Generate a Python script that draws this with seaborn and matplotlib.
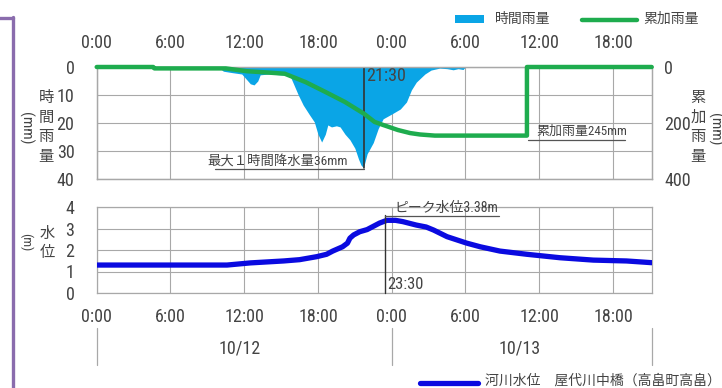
import matplotlib
matplotlib.use("Agg")
import matplotlib.pyplot as plt
from matplotlib.lines import Line2D
from matplotlib.patches import Rectangle
from matplotlib import font_manager
import seaborn as sns
import pandas as pd

# ---------------- data ----------------
tick_hours = [0, 6, 12, 18, 24, 30, 36, 42]
tick_labels = ["0:00", "6:00", "12:00", "18:00", "0:00", "6:00", "12:00", "18:00"]
dates = ["10/12", "10/13"]

# hourly rainfall (mm), hours from 10/12 0:00
rain_t = [9.9, 10.3, 11.0, 11.8, 12.1, 12.5, 12.8, 13.1, 13.3, 14.0, 15.0, 15.7,
          15.95, 16.4, 16.8, 17.3, 17.7, 18.0, 18.3, 18.6, 18.8, 19.1, 19.5, 19.8,
          20.2, 20.6, 21.0, 21.3, 21.5, 21.7, 22.0, 22.5, 22.9, 23.3, 24.0, 24.7,
          25.2, 25.6, 26.0, 26.7, 27.2, 27.9, 28.5, 29.0, 29.4, 29.8, 30.0]
rain_mm = [0, 1.5, 2.0, 2.5, 4.0, 6.0, 6.4, 5.0, 2.8, 2.5, 2.8, 2.9,
           5.4, 10.0, 13.6, 17.0, 19.6, 24.0, 26.8, 24.0, 20.7, 21.4, 21.0, 21.4,
           24.0, 26.0, 29.0, 32.9, 35.0, 36.0, 31.0, 27.0, 22.0, 18.5, 16.8, 15.0,
           12.5, 8.2, 5.4, 2.5, 1.1, 0.4, 0.6, 1.0, 0.6, 0.9, 0]

# cumulative rainfall (mm)
cum_t = [0, 4.6, 4.7, 10.5, 12.2, 14.0, 15.3, 17.0, 18.6, 20.2, 21.75, 22.6, 23.3,
         24.5, 25.5, 26.3, 27.5, 35.0, 35.0, 45.15]
cum_mm = [0, 0, 5, 5, 15, 20, 24, 54, 89, 125, 167, 196, 207,
          225, 236, 241, 245, 245, 0, 0]

# river water level (m)
lvl_t = [0, 10.6, 12.5, 15.2, 16.5, 17.9, 18.7, 19.2, 20.0, 20.4, 20.6, 20.9, 21.4,
         22.0, 23.0, 23.6, 24.3, 24.9, 26.0, 26.8, 27.4, 28.5, 30.1, 31.2, 32.8,
         35.0, 37.7, 40.4, 43.1, 45.15]
lvl_m = [1.30, 1.30, 1.40, 1.49, 1.55, 1.69, 1.80, 1.95, 2.15, 2.32, 2.55, 2.70, 2.85,
         2.95, 3.25, 3.38, 3.38, 3.32, 3.16, 3.07, 2.93, 2.62, 2.32, 2.15, 1.95,
         1.80, 1.64, 1.53, 1.49, 1.41]

peak_rain_t = 21.75
peak_lvl_t = 23.45

# ---------------- style ----------------
sns.set_theme(style="white")
installed = {f.name for f in font_manager.fontManager.ttflist}
narrow = [n for n in ["Liberation Sans Narrow", "DejaVu Sans Condensed", "Roboto Condensed",
                      "Open Sans Condensed"] if n in installed]
plt.rcParams["font.family"] = narrow + ["Noto Sans CJK JP", "DejaVu Sans"]
NUM = 13 if narrow else 11.5

W, H = 722, 388
fig = plt.figure(figsize=(W / 100, H / 100), dpi=100)

def fx(px):
    return px / W

def fy(py):
    return 1 - py / H

XMAX = 45.15
L, R = 96.7, 651.7
ax1 = fig.add_axes([fx(L), fy(179), fx(R) - fx(L), fy(67) - fy(179)])
ax2 = fig.add_axes([fx(L), fy(293), fx(R) - fx(L), fy(207) - fy(293)])

TXT = "#444444"
GRID = "#a8a8a8"
BLUE_R = "#0aa5e6"
GREEN = "#1eac4e"
BLUE_L = "#0a0ae0"

rain_df = pd.DataFrame({"t": rain_t, "mm": rain_mm})
cum_df = pd.DataFrame({"t": cum_t, "mm": cum_mm})
lvl_df = pd.DataFrame({"t": lvl_t, "m": lvl_m})

# ---- top axes: rainfall ----
ax1.fill_between(rain_df["t"], rain_df["mm"], 0, color=BLUE_R, linewidth=0, zorder=2)
ax1.set_xlim(0, XMAX)
ax1.set_ylim(40, 0)
ax1.set_xticks(tick_hours)
ax1.set_xticklabels(tick_labels)
ax1.xaxis.tick_top()
ax1.set_yticks([0, 10, 20, 30, 40])
ax1.grid(True, color=GRID, linewidth=0.8)
ax1.tick_params(axis="x", length=0, pad=11, labelsize=NUM, colors=TXT)
ax1.tick_params(axis="y", length=0, pad=16, labelsize=NUM, colors=TXT)
ax1.set_xlabel("")
ax1.set_ylabel("")

ax1r = ax1.twinx()
sns.lineplot(data=cum_df, x="t", y="mm", ax=ax1r, color=GREEN, linewidth=3.2,
             estimator=None, sort=False, clip_on=False, zorder=4)
ax1r.set_ylim(400, 0)
ax1r.set_xlim(0, XMAX)
ax1r.set_yticks([0, 200, 400])
ax1r.tick_params(axis="y", length=0, pad=9, labelsize=NUM, colors=TXT)
ax1r.set_ylabel("")
ax1r.grid(False)

for a in (ax1, ax1r, ax2):
    for s in a.spines.values():
        s.set_color(GRID)
        s.set_linewidth(0.9)

# annotations top
ax1.plot([peak_rain_t, peak_rain_t], [0, 36], color="#333333", lw=1.2, zorder=5)
ax1.plot([9.6, peak_rain_t], [36.5, 36.5], color="#555555", lw=0.9, zorder=5, clip_on=False)
ax1.text(peak_rain_t - 1.3, 35.8, "最大１時間降水量36mm", ha="right", va="bottom",
         fontsize=9.6, color=TXT, zorder=6)
ax1.text(peak_rain_t + 0.15, 3.2, "21:30", ha="left", va="center", fontsize=NUM,
         color=TXT, zorder=6)
ax1r.plot([35.1, 43.0], [260, 260], color="#555555", lw=0.9)
ax1r.text(35.8, 254, "累加雨量245mm", ha="left", va="bottom", fontsize=9.4, color=TXT)

# ---- bottom axes: water level ----
sns.lineplot(data=lvl_df, x="t", y="m", ax=ax2, color=BLUE_L, linewidth=3.8,
             estimator=None, sort=False, zorder=4)
ax2.set_xlim(0, XMAX)
ax2.set_ylim(0, 4)
ax2.set_xticks(tick_hours)
ax2.set_xticklabels(tick_labels)
ax2.set_yticks([0, 1, 2, 3, 4])
ax2.grid(True, color=GRID, linewidth=0.8)
ax2.tick_params(axis="x", length=0, pad=11, labelsize=NUM, colors=TXT)
ax2.tick_params(axis="y", length=0, pad=16, labelsize=NUM, colors=TXT)
ax2.set_xlabel("")
ax2.set_ylabel("")

ax2.plot([peak_lvl_t, peak_lvl_t], [0, 3.62], color="#333333", lw=1.0, zorder=5, clip_on=False)
ax2.plot([peak_lvl_t, 32.7], [3.58, 3.58], color="#555555", lw=0.9, zorder=5, clip_on=False)
ax2.text(peak_lvl_t + 0.8, 3.63, "ピーク水位3.38m", ha="left", va="bottom", fontsize=10,
         color=TXT, zorder=6)
ax2.text(peak_lvl_t + 0.15, 0.4, "23:30", ha="left", va="center", fontsize=NUM - 1,
         color=TXT, zorder=6)

# date row
xt = ax2.get_xaxis_transform()
for xv in (0, 24, XMAX):
    ax2.plot([xv, xv], [-0.41, -0.84], transform=xt, color=GRID, lw=0.9, clip_on=False)
ax2.text(11.6, -0.65, dates[0], transform=xt, ha="center", va="center", fontsize=NUM, color=TXT)
ax2.text(34.4, -0.65, dates[1], transform=xt, ha="center", va="center", fontsize=NUM, color=TXT)

# axis titles
def vtext(px, py, s, size=11):
    fig.text(fx(px), fy(py), "\n".join(s), ha="center", va="center", fontsize=size,
             color=TXT, linespacing=1.2, family=["Noto Sans CJK JP", "DejaVu Sans"])

vtext(46, 127, "時間雨量")
fig.text(fx(26), fy(128), "(mm)", rotation=-90, ha="center", va="center", fontsize=11, color=TXT)
vtext(698, 127, "累加雨量")
fig.text(fx(715), fy(129), "(mm)", rotation=-90, ha="center", va="center", fontsize=11, color=TXT)
vtext(47, 243, "水位")
fig.text(fx(26), fy(242), "(m)", rotation=-90, ha="center", va="center", fontsize=9.5, color=TXT)

# legends
fig.add_artist(Rectangle((fx(455), fy(23)), fx(484) - fx(455), fy(15) - fy(23),
                         transform=fig.transFigure, color=BLUE_R, lw=0))
fig.text(fx(495), fy(19), "時間雨量", ha="left", va="center", fontsize=10, color=TXT)
fig.add_artist(Line2D([fx(582), fx(637)], [fy(19.5), fy(19.5)], transform=fig.transFigure,
                      color=GREEN, lw=3.2))
fig.text(fx(643), fy(19), "累加雨量", ha="left", va="center", fontsize=10, color=TXT)

fig.add_artist(Line2D([fx(420), fx(478)], [fy(383), fy(383)], transform=fig.transFigure,
                      color=BLUE_L, lw=3.8))
fig.text(fx(485), fy(381), "河川水位　屋代川中橋（高畠町高畠）", ha="left", va="center",
         fontsize=10, color=TXT)

# purple frame
PURPLE = "#8a6cad"
fig.add_artist(Line2D([fx(12.5), fx(12.5)], [fy(17), fy(392)], transform=fig.transFigure,
                      color=PURPLE, lw=2.4))
fig.add_artist(Line2D([fx(-2), fx(13.5)], [fy(18), fy(18)], transform=fig.transFigure,
                      color=PURPLE, lw=2.4))

fig.savefig("out.png", dpi=100)
